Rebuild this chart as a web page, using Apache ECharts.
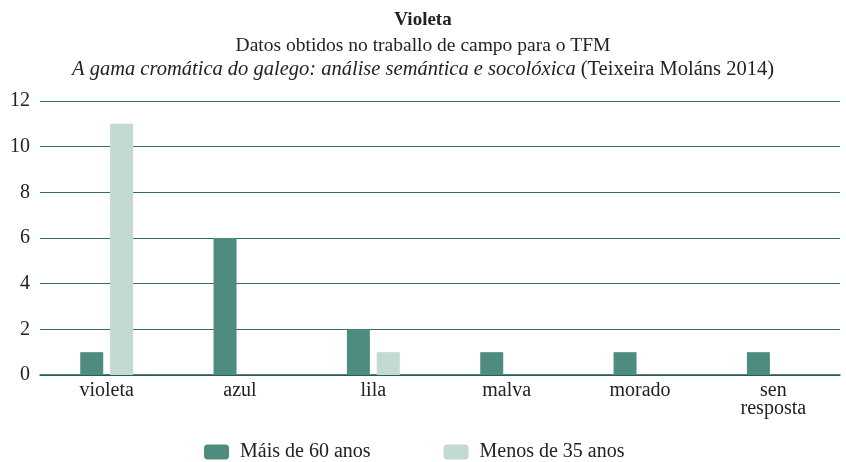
<!DOCTYPE html>
<html>
<head>
<meta charset="utf-8">
<script src="https://cdn.jsdelivr.net/npm/echarts@6/dist/echarts.min.js"></script>
<style>
html, body { margin: 0; padding: 0; background: #fff; }
#chart { width: 846px; height: 462px; }
</style>
</head>
<body>
<div id="chart"></div>
<script>
// datos
var categorias = ["violeta", "azul", "lila", "malva", "morado", "sen\nresposta"];
var mais60 = [1, 6, 2, 1, 1, 1];
var menos35 = [11, 0, 1, 0, 0, 0];
var nomesSeries = ["Máis de 60 anos", "Menos de 35 anos"];

var fonte = "Liberation Serif";
var myChart = echarts.init(document.getElementById('chart'));

var option = {
    backgroundColor: '#FFFFFF',
    color: ['#4f8c80', '#c3d9d4'],
    title: [
        {
            text: 'Violeta',
            left: 'center', top: 6,
            textStyle: { fontFamily: fonte, fontSize: 19, fontWeight: 'bold', color: '#222' }
        },
        {
            text: 'Datos obtidos no traballo de campo para o TFM',
            left: 'center', top: 31,
            textStyle: { fontFamily: fonte, fontSize: 19.5, fontWeight: 'normal', color: '#222' }
        },
        {
            text: '{i|A gama cromática do galego: análise semántica e socolóxica} {n|(Teixeira Moláns 2014)}',
            left: 'center', top: 54,
            textStyle: {
                fontWeight: 'normal',
                rich: {
                    i: { fontFamily: fonte, fontSize: 20.5, fontStyle: 'italic', fontWeight: 'normal', color: '#222' },
                    n: { fontFamily: fonte, fontSize: 20.5, fontWeight: 'normal', color: '#222' }
                }
            }
        }
    ],
    legend: {
        top: 437,
        left: 199,
        itemWidth: 25,
        itemHeight: 15,
        itemGap: 73,
        data: nomesSeries,
        textStyle: { fontFamily: fonte, fontSize: 20, color: '#222', padding: [0, 0, 0, 6] }
    },
    grid: { left: 40, right: 6, top: 101, bottom: 87 },
    xAxis: {
        type: 'category',
        data: categorias,
        axisLine: { lineStyle: { color: '#1f5a4d', width: 1.5 } },
        axisTick: { show: false },
        axisLabel: { fontFamily: fonte, fontSize: 20, color: '#222', margin: 7, lineHeight: 18 }
    },
    yAxis: {
        type: 'value',
        min: 0, max: 12, interval: 2,
        axisLine: { show: false },
        axisTick: { show: false },
        axisLabel: { fontFamily: fonte, fontSize: 20, color: '#222', margin: 10 },
        splitLine: { lineStyle: { color: '#2f6f62', width: 1.2 } }
    },
    series: [
        { name: nomesSeries[0], type: 'bar', data: mais60, barWidth: 23, barGap: '30%' },
        { name: nomesSeries[1], type: 'bar', data: menos35, barWidth: 23, barGap: '30%' }
    ]
};

myChart.setOption(option);
</script>
</body>
</html>
